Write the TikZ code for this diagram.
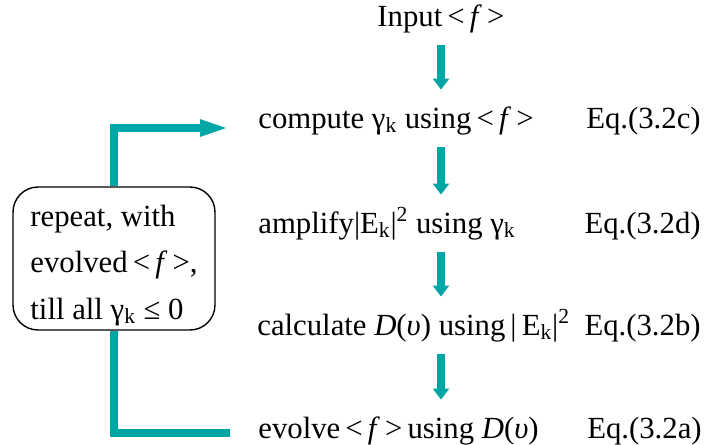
\documentclass[tikz,border=0pt]{standalone}
\usepackage{fontspec}
\setmainfont{Liberation Serif}
\usetikzlibrary{arrows.meta}
\usetikzlibrary{positioning}
\definecolor{loopteal}{RGB}{0, 166, 166}

\begin{document}
\begin{tikzpicture}[x=0.02cm, y=-0.02cm,
    txt/.style={inner sep=0pt, text height=12pt, text depth=4pt, font=\fontsize{17.5}{20}\selectfont},
    flow/.style={loopteal, line width=0.16cm, -{Triangle[length=0.22cm, width=0.32cm]}, shorten <=0.24cm, shorten >=0.34cm},
    back/.style={loopteal, line width=0.16cm}]
    \useasboundingbox (0, 0) rectangle (706, 444);

    % steps of one pass
    \node[txt, anchor=base] (input) at (441, 26) {Input\,<\,\textit{f}\,>};
    \node[txt, anchor=base west] (compute) at (258, 128) {compute γ\textsubscript{k} using\,<\,\textit{f}\,>};
    \node[txt, anchor=base west] (amplify) at (258, 233) {amplify|E\textsubscript{k}|\textsuperscript{2} using γ\textsubscript{k}};
    \node[txt, anchor=base west] (calc) at (257, 335) {calculate \textit{D}(\textit{υ}) using\,|\,E\textsubscript{k}|\textsuperscript{2}};
    \node[txt, anchor=base west] (evolve) at (258, 438) {evolve\,<\,\textit{f}\,>\,using \textit{D}(\textit{υ})};

    \node[txt, anchor=base east] (eqc) at (701, 128) {Eq.(3.2c)};
    \node[txt, anchor=base east] (eqd) at (701, 233) {Eq.(3.2d)};
    \node[txt, anchor=base east] (eqb) at (701, 335) {Eq.(3.2b)};
    \node[txt, anchor=base east] (eqa) at (702, 438) {Eq.(3.2a)};

    \draw[flow] (input.south) -- (input.south |- compute.north);
    \draw[flow] (input.south |- compute.south) -- (input.south |- amplify.north);
    \draw[flow] (input.south |- amplify.south) -- (input.south |- calc.north);
    \draw[flow] (input.south |- calc.south) -- (input.south |- evolve.north);

    % loop back
    \node[draw, thick, rounded corners=0.5cm, minimum width=4.04cm, minimum height=2.86cm,
          align=left, inner sep=0pt, font=\fontsize{17.5}{26.3}\selectfont] (repeat) at (114, 258.5)
        {\rule{0pt}{20pt}repeat, with\\evolved\,<\,\textit{f}\,>,\\till all γ\textsubscript{k} ≤ 0};

    \draw[back, -{Triangle[length=0.6cm, width=0.3cm]}, shorten >=0.56cm] (repeat.north) |- (compute.base west);
    \draw[back, shorten >=0.56cm] (repeat.south) |- ([yshift=0.1cm]evolve.base west);
\end{tikzpicture}
\end{document}
